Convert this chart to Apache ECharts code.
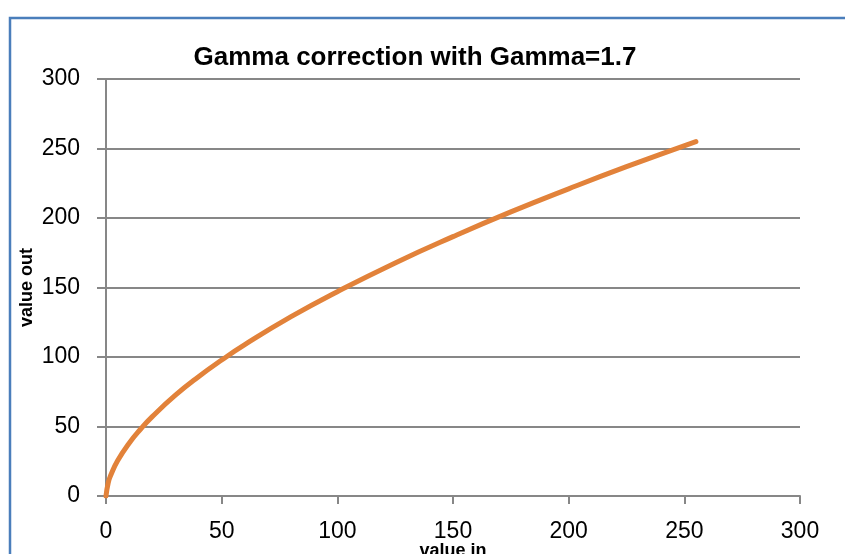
<!DOCTYPE html>
<html>
<head>
<meta charset="utf-8">
<title>Gamma correction</title>
<script src="https://cdn.jsdelivr.net/npm/echarts@6/dist/echarts.min.js"></script>
<style>
  html, body { margin: 0; padding: 0; background: #fff; }
  #chart { width: 845px; height: 554px; }
</style>
</head>
<body>
<div id="chart"></div>
<script>
// values
const valueIn = [0, 1, 2, 5, 10, 15, 20, 30, 40, 50, 60, 80, 100, 125, 150, 175, 200, 225, 255]
const valueOut = [0, 9.8, 14.7, 25.3, 38, 48.2, 57.1, 72.5, 85.8, 97.8, 108.9, 129, 147, 167.7, 186.6, 204.4, 221, 236.9, 255]

const axisTicks = [0, 50, 100, 150, 200, 250, 300]

const chart = echarts.init(document.getElementById('chart'))

const font = '"Liberation Sans", Arial, sans-serif'
const gridColor = '#878787'

chart.setOption({
  animation: false,
  title: {
    text: 'Gamma correction with Gamma=1.7',
    left: 410,
    top: 40,
    textAlign: 'center',
    textStyle: {
      fontFamily: font,
      fontSize: 26,
      fontWeight: 'bold',
      color: '#000'
    }
  },
  graphic: [
    {
      type: 'rect',
      silent: true,
      shape: { x: 10, y: 18, width: 900, height: 600 },
      style: { fill: null, stroke: '#4A7EBB', lineWidth: 2.5 }
    }
  ],
  grid: {
    left: 106,
    right: 45,
    top: 79,
    bottom: 58,
    outerBoundsMode: 'none',
    containLabel: false
  },
  xAxis: {
    type: 'value',
    min: axisTicks[0],
    max: axisTicks[axisTicks.length - 1],
    interval: 50,
    name: 'value in',
    nameLocation: 'middle',
    nameGap: 46,
    nameMoveOverlap: false,
    nameTextStyle: { fontFamily: font, fontSize: 18, fontWeight: 'bold', color: '#000' },
    axisLine: { show: true, onZero: false, lineStyle: { color: gridColor, width: 2 } },
    axisTick: { show: true, length: 8, lineStyle: { color: gridColor, width: 2 } },
    axisLabel: { margin: 24, fontFamily: font, fontSize: 23, color: '#000' },
    splitLine: { show: false }
  },
  yAxis: {
    type: 'value',
    min: axisTicks[0],
    max: axisTicks[axisTicks.length - 1],
    interval: 50,
    name: 'value out',
    nameLocation: 'middle',
    nameGap: 70,
    nameMoveOverlap: false,
    nameRotate: 90,
    nameTextStyle: { fontFamily: font, fontSize: 18, fontWeight: 'bold', color: '#000' },
    axisLine: { show: true, lineStyle: { color: gridColor, width: 2 } },
    axisTick: { show: true, length: 9, lineStyle: { color: gridColor, width: 2 } },
    axisLabel: { margin: 26, fontFamily: font, fontSize: 23, color: '#000' },
    splitLine: { show: true, lineStyle: { color: gridColor, width: 2 } }
  },
  series: [
    {
      type: 'line',
      data: valueIn.map((x, i) => [x, valueOut[i]]),
      smooth: true,
      showSymbol: false,
      lineStyle: { color: '#E2823A', width: 5, cap: 'round' },
      itemStyle: { color: '#E2823A' }
    }
  ]
})
</script>
</body>
</html>
